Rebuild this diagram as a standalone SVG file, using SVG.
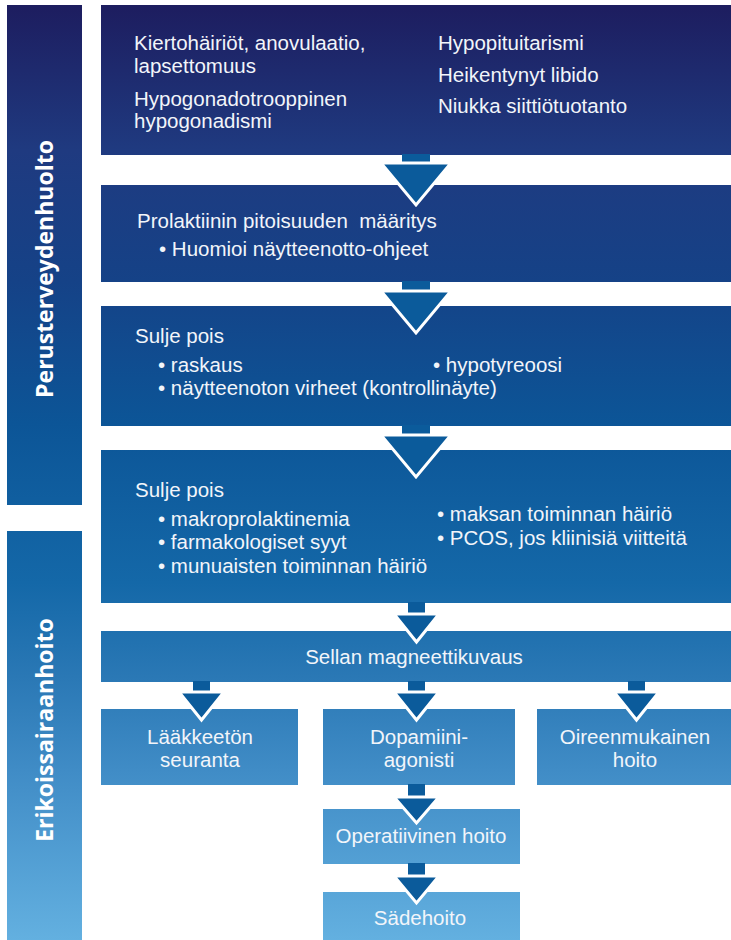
<svg xmlns="http://www.w3.org/2000/svg" width="731" height="940" viewBox="0 0 731 940">
<defs>
<linearGradient id="g" gradientUnits="userSpaceOnUse" x1="0" y1="0" x2="0" y2="940">
<stop offset="0" stop-color="#1d1c5e"/>
<stop offset="0.16" stop-color="#1f3a80"/>
<stop offset="0.3" stop-color="#154287"/>
<stop offset="0.45" stop-color="#0c5597"/>
<stop offset="0.62" stop-color="#1468a8"/>
<stop offset="0.72" stop-color="#2a78b5"/>
<stop offset="0.82" stop-color="#408cc6"/>
<stop offset="1" stop-color="#63b0e0"/>
</linearGradient>
<style>
.box{fill:url(#g);}
.t{font-family:"Liberation Sans",Arial,sans-serif;font-size:20.5px;fill:#f2f5fa;}
.c{text-anchor:middle;}
.lab{font-family:"Open Sans","DejaVu Sans",sans-serif;font-weight:bold;font-size:23px;fill:#ffffff;text-anchor:middle;}
.arr{fill:#0b5b9b;}
.head{fill:#0b5b9b;stroke:#ffffff;stroke-width:3;stroke-linejoin:miter;}
</style>
</defs>
<g id="band-perus">
<rect class="box" x="7" y="5" width="75" height="500"/>
<text class="lab" transform="translate(53,269) rotate(-90)">Perusterveydenhuolto</text>
</g>
<g id="band-erikois">
<rect class="box" x="7" y="531" width="75" height="409"/>
<text class="lab" transform="translate(53,730) rotate(-90)">Erikoissairaanhoito</text>
</g>
<g id="box1">
<rect class="box" x="101" y="5" width="630" height="150"/>
<text class="t" x="134" y="50">Kiertohäiriöt, anovulaatio,</text>
<text class="t" x="134" y="73">lapsettomuus</text>
<text class="t" x="134" y="106">Hypogonadotrooppinen</text>
<text class="t" x="134" y="128">hypogonadismi</text>
<text class="t" x="438" y="50">Hypopituitarismi</text>
<text class="t" x="438" y="82">Heikentynyt libido</text>
<text class="t" x="438" y="113">Niukka siittiötuotanto</text>
</g>
<g id="box2">
<rect class="box" x="101" y="185" width="630" height="97"/>
<text class="t" x="137" y="228" xml:space="preserve">Prolaktiinin pitoisuuden  määritys</text>
<text class="t" x="159" y="256">• Huomioi näytteenotto-ohjeet</text>
</g>
<g id="box3">
<rect class="box" x="101" y="306" width="630" height="120"/>
<text class="t" x="135" y="343">Sulje pois</text>
<text class="t" x="158" y="372">• raskaus</text>
<text class="t" x="433" y="372">• hypotyreoosi</text>
<text class="t" x="158" y="395">• näytteenoton virheet (kontrollinäyte)</text>
</g>
<g id="box4">
<rect class="box" x="101" y="450" width="630" height="153"/>
<text class="t" x="135" y="497">Sulje pois</text>
<text class="t" x="158" y="526">• makroprolaktinemia</text>
<text class="t" x="158" y="549">• farmakologiset syyt</text>
<text class="t" x="158" y="573">• munuaisten toiminnan häiriö</text>
<text class="t" x="437" y="521">• maksan toiminnan häiriö</text>
<text class="t" x="437" y="545">• PCOS, jos kliinisiä viitteitä</text>
</g>
<g id="box-sella">
<rect class="box" x="101" y="631" width="630" height="51"/>
<text class="t c" x="414" y="664">Sellan magneettikuvaus</text>
</g>
<g id="box-laakkeeton">
<rect class="box" x="101" y="709" width="197" height="76"/>
<text class="t c" x="200" y="744">Lääkkeetön</text>
<text class="t c" x="200" y="767">seuranta</text>
</g>
<g id="box-dopamiini">
<rect class="box" x="323" y="709" width="192" height="76"/>
<text class="t c" x="419" y="744">Dopamiini-</text>
<text class="t c" x="419" y="767">agonisti</text>
</g>
<g id="box-oireen">
<rect class="box" x="537" y="709" width="194" height="76"/>
<text class="t c" x="635" y="744">Oireenmukainen</text>
<text class="t c" x="635" y="767">hoito</text>
</g>
<g id="box-operatiivinen">
<rect class="box" x="323" y="809" width="197" height="55"/>
<text class="t c" x="421" y="843">Operatiivinen hoito</text>
</g>
<g id="box-sadehoito">
<rect class="box" x="323" y="892" width="197" height="48"/>
<text class="t c" x="420" y="925">Sädehoito</text>
</g>
<g id="connectors">
<rect class="arr" x="402" y="154" width="28" height="11"/>
<path class="head" d="M381,163 L451,163 L416,205 Z"/>
<rect class="arr" x="402" y="281" width="28" height="12"/>
<path class="head" d="M381,291 L451,291 L416,333 Z"/>
<rect class="arr" x="402" y="425" width="28" height="12"/>
<path class="head" d="M381,435 L451,435 L416,477 Z"/>
<rect class="arr" x="408" y="602" width="17" height="13"/>
<path class="head" d="M394,614 L439,614 L416.5,642 Z"/>
<rect class="arr" x="193" y="681" width="17" height="13"/>
<path class="head" d="M179,692 L224,692 L201.5,720 Z"/>
<rect class="arr" x="408" y="681" width="17" height="13"/>
<path class="head" d="M394,692 L439,692 L416.5,720 Z"/>
<rect class="arr" x="628" y="681" width="17" height="13"/>
<path class="head" d="M614,692 L659,692 L636.5,720 Z"/>
<rect class="arr" x="408" y="784" width="17" height="14"/>
<path class="head" d="M394,797 L439,797 L416.5,823 Z"/>
<rect class="arr" x="408" y="863" width="17" height="14"/>
<path class="head" d="M394,876 L439,876 L416.5,903 Z"/>
</g>
</svg>
